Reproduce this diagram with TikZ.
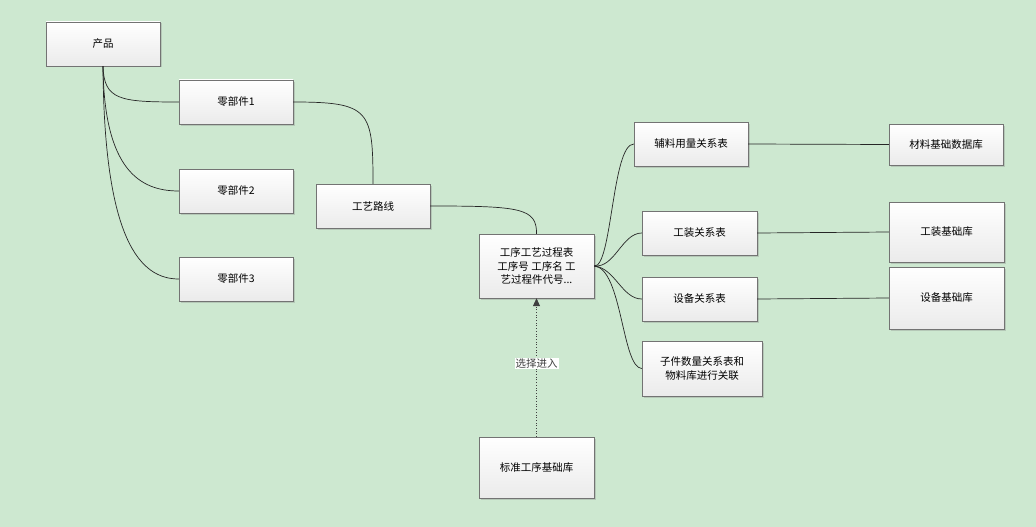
\documentclass[tikz,border=0pt]{standalone}
\usepackage{fontspec}
\setmainfont{Noto Sans CJK SC}
\usetikzlibrary{arrows.meta,shadows}
\definecolor{bg}{HTML}{CDE8D0}
\begin{document}
\begin{tikzpicture}[x=1pt,y=-1pt,
 box/.style={draw=black!55,top color=white,bottom color=black!8,font=\fontsize{10.5}{13.5}\selectfont,align=center,inner sep=2pt,drop shadow={shadow xshift=1.5pt,shadow yshift=-1.5pt,opacity=0.3}},
 ln/.style={black!85,line width=0.7pt}]
\fill[bg] (0,0) rectangle (1036,527);
\useasboundingbox (0,0) rectangle (1036,527);
\newcommand{\bx}[6]{\node[box,minimum width=#3-#2,minimum height=#5-#4] (#1) at ({(#2+#3)/2},{(#4+#5)/2}) {#6};}
\bx{p}{46}{160}{22}{66}{产品}
\bx{a}{179}{293}{80}{124}{零部件1}
\bx{b}{179}{293}{169}{213}{零部件2}
\bx{c}{179}{293}{257}{301}{零部件3}
\bx{r}{316}{430}{184}{228}{工艺路线}
\bx{g}{479}{594}{234}{298}{工序工艺过程表\\工序号 工序名 工\\艺过程件代号...}
\bx{s}{479}{594}{437}{498}{标准工序基础库}
\bx{f}{634}{748}{122}{166}{辅料用量关系表}
\bx{t}{642}{757}{211}{255}{工装关系表}
\bx{e}{642}{757}{277}{321}{设备关系表}
\bx{z}{642}{762}{341}{396}{子件数量关系表和\\物料库进行关联}
\bx{m}{889}{1003}{124}{165}{材料基础数据库}
\bx{tk}{889}{1004}{202}{262}{工装基础库}
\bx{ek}{889}{1004}{267}{329}{设备基础库}
\draw[ln] (p.south) .. controls (104,100) and (120,102) .. (a.west);
\draw[ln] (p.south) .. controls (104,170) and (140,191) .. (b.west);
\draw[ln] (p.south) .. controls (104,240) and (140,279) .. (c.west);
\draw[ln] (a.east) .. controls (370,102) and (373,110) .. (r.north);
\draw[ln] (r.east) .. controls (520,206) and (537,208) .. (g.north);
\draw[ln] (g.east) .. controls (612,268) and (612,144) .. (f.west);
\draw[ln] (g.east) .. controls (615,268) and (622,233) .. (t.west);
\draw[ln] (g.east) .. controls (615,268) and (622,299) .. (e.west);
\draw[ln] (g.east) .. controls (622,268) and (622,368) .. (z.west);
\draw[ln] (f.east) -- (m.west);
\draw[ln] (t.east) -- (tk.west);
\draw[ln] (e.east) -- (ek.west);
\draw[black!75,line width=0.7pt,dotted,-{Triangle[length=8pt,width=7pt]}] (s.north) -- node[fill=white,inner sep=1pt,font=\fontsize{10.5}{12}\selectfont,pos=0.53]{选择进入} (g.south);
\end{tikzpicture}
\end{document}
